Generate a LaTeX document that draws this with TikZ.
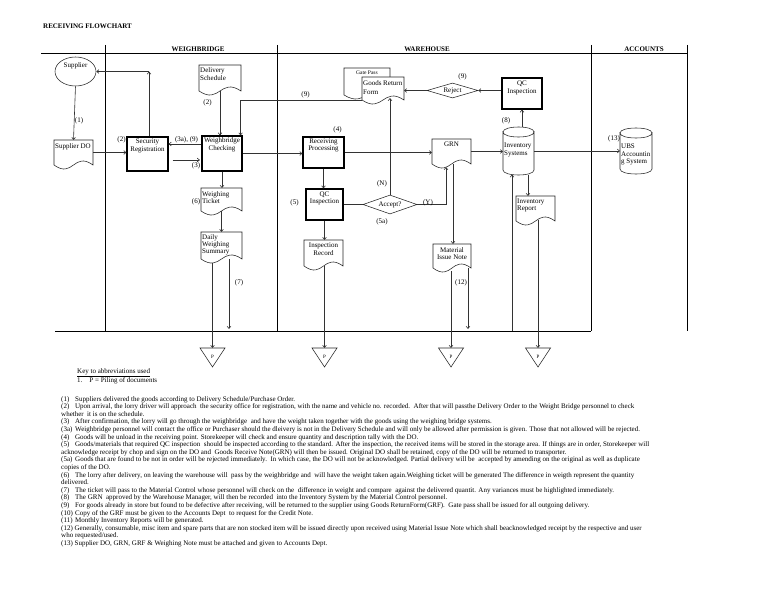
\documentclass[tikz,border=0pt]{standalone}
\usepackage{fontspec}
\setmainfont{Liberation Serif}
\usetikzlibrary{arrows.meta,calc,fit,shapes.geometric}
\newcommand{\fs}{\fontsize{7}{7.6}\selectfont}
\tikzset{
  lane/.style={line width=0.8pt},
  boxst/.style={draw, line width=1.1pt, inner sep=0pt},
  region/.style={inner sep=0pt, outer sep=0pt},
  docline/.style={draw=black!85, line width=0.55pt, fill=white},
  conn/.style={draw=black!80, line width=0.6pt},
  arr/.style={conn, -{Straight Barb[length=2.2pt,width=3.6pt]}},
  txt/.style={font=\fs, inner sep=0pt},
  hd/.style={font=\fs\bfseries, inner sep=0pt},
}
\newcommand{\docnode}[5]{%
  \node[region, fit={(#2,#3) (#4,#5)}] (#1) {};
  \draw[docline] (#1.south west) -- (#1.north west) -- (#1.north east) -- (#1.south east)
    .. controls ($(#1.south)+(0,-14)$) and ($(#1.south)+(0,14)$) .. (#1.south west) -- cycle;}
\newcommand{\cylnode}[5]{%
  \node[region, fit={(#2,#3) (#4,#5)}] (#1) {};
  \draw[docline] ($(#1.north west)+(0,5)$) -- ($(#1.south west)+(0,-5)$)
    .. controls ($(#1.south west)+(0,1.67)$) and ($(#1.south east)+(0,1.67)$) .. ($(#1.south east)+(0,-5)$)
    -- ($(#1.north east)+(0,5)$)
    .. controls ($(#1.north east)+(0,11.67)$) and ($(#1.north west)+(0,11.67)$) .. ($(#1.north west)+(0,5)$) -- cycle;
  \draw[docline, fill=none] ($(#1.north west)+(0,5)$)
    .. controls ($(#1.north west)+(0,-1.67)$) and ($(#1.north east)+(0,-1.67)$) .. ($(#1.north east)+(0,5)$);}
\newcommand{\pnode}[2]{%
  \node[region, fit={({#2-12.5},348) ({#2+12.5},367)}] (#1) {};
  \draw[docline] (#1.north west) -- (#1.north east) -- (#1.south) -- cycle;
  \node[txt, font=\fontsize{5}{6}\selectfont] (#1-t) at ($(#1.center)+(0,-1)$) {P};}
\newcommand{\nb}[1]{\makebox[14pt][l]{#1}}
\begin{document}
\begin{tikzpicture}[x=1pt,y=-1pt]
\useasboundingbox (0,0) rectangle (768,594);
\fill[white] (0,0) rectangle (768,594);
\node[hd, anchor=west] (title) at (43,26) {RECEIVING FLOWCHART};
% swimlanes
\draw[lane] (41,53) -- (687,53);
\foreach \x in {105,277,591,687} { \draw[lane] (\x,45) -- (\x,331); }
\draw[lane] (55,331) -- (591,331);
\node[hd] (lw) at (198,49) {WEIGHBRIDGE};
\node[hd] (lh) at (427,49) {WAREHOUSE};
\node[hd] (la) at (644,49) {ACCOUNTS};

% supplier
\node[draw=black!85, line width=0.55pt, ellipse, minimum width=41pt, minimum height=29pt, inner sep=0pt] (sup) at (75.5,71.5) {};
\node[txt] (sup-t) at ($(sup.center)+(0,-5.5)$) {Supplier};

% documents
\docnode{sdo}{54}{140}{93}{165}
\node[txt, anchor=north west] (sdo-t) at ($(sdo.north west)+(1,3)$) {Supplier DO};
\docnode{ds}{199}{65}{241}{91}
\node[txt, anchor=north west, align=left] (ds-t) at ($(ds.north west)+(1,2.5)$) {Delivery\\Schedule};
\docnode{wt}{201}{188}{242}{211}
\node[txt, anchor=north west, align=left] (wt-t) at ($(wt.north west)+(1,3)$) {Weighing\\Ticket};
\docnode{dws}{201}{232}{242}{259}
\node[txt, anchor=north west, align=left, font=\fontsize{7}{7}\selectfont] (dws-t) at ($(dws.north west)+(1,2.5)$) {Daily\\Weighing\\Summary};
\docnode{ins}{304}{240}{343}{266}
\node[txt, anchor=north, align=center] (ins-t) at ($(ins.north)+(0,3)$) {Inspection\\Record};
\docnode{gp}{344}{68}{390}{95}
\node[txt, font=\fontsize{5.5}{6}\selectfont] (gp-t) at ($(gp.north)+(0,5)$) {Gate Pass};
\docnode{grf}{362}{77}{404}{100}
\node[txt, anchor=north west, align=left, font=\fontsize{7}{8.5}\selectfont] (grf-t) at ($(grf.north west)+(1,3.5)$) {Goods Return\\Form};
\docnode{grn}{432}{139}{471}{164}
\node[txt] (grn-t) at ($(grn.north)+(0,5.5)$) {GRN};
\docnode{irp}{516}{196}{555}{221}
\node[txt, anchor=north west, align=left] (irp-t) at ($(irp.north west)+(1,2.5)$) {Inventory\\Report};
\docnode{min}{433}{244}{471}{268}
\node[txt, anchor=north, align=center] (min-t) at ($(min.north)+(0,3)$) {Material\\Issue Note};

% process boxes
\node[boxst, minimum width=41pt, minimum height=34pt] (sr) at (147.5,154) {};
\node[txt, anchor=north, align=center] (sr-t) at ($(sr.north)+(0,2.5)$) {Security\\Registration};
\node[boxst, minimum width=40pt, minimum height=35pt] (wc) at (222,153.5) {};
\node[txt, anchor=north, align=center] (wc-t) at ($(wc.north)+(0,2)$) {Weighbridge\\Checking};
\node[boxst, minimum width=41pt, minimum height=31pt] (rp) at (323.5,152.5) {};
\node[txt, anchor=north, align=center] (rp-t) at ($(rp.north)+(0,2)$) {Receiving\\Processing};
\node[boxst, minimum width=37pt, minimum height=31pt] (qc) at (324.5,204.5) {};
\node[txt, anchor=north, align=center, font=\fontsize{7}{7.2}\selectfont] (qc-t) at ($(qc.north)+(0,3.5)$) {QC\\Inspection};
\node[boxst, minimum width=40pt, minimum height=31pt] (qct) at (522,93.5) {};
\node[txt, anchor=north, align=center] (qct-t) at ($(qct.north)+(0,3.5)$) {QC\\Inspection};

% decisions
\node[draw=black!85, line width=0.55pt, diamond, aspect=2.8, minimum width=54pt, minimum height=19pt, inner sep=0pt, txt] (acc) at (390,204.5) {Accept?};
\node[draw=black!85, line width=0.55pt, diamond, aspect=3.2, minimum width=51pt, minimum height=15pt, inner sep=0pt, txt] (rej) at (452.5,90.5) {Reject};

% cylinders
\cylnode{inv}{503}{127}{534}{175}
\node[txt, anchor=west, align=left] (inv-t) at ($(inv.west)+(1,-1)$) {Inventory\\Systems};
\cylnode{ubs}{620}{128}{652}{174}
\node[txt, anchor=west, align=left] (ubs-t) at ($(ubs.west)+(1,3.5)$) {UBS\\Accountin\\g System};

% piling triangles
\pnode{p1}{212.5}
\pnode{p2}{324.5}
\pnode{p3}{451}
\pnode{p4}{538}

% connectors
\draw[arr] (sup.south) -- (sdo.north);
\draw[arr] (sdo.east) -- (sdo.east -| sr.west);
\coordinate (c1) at ($(sr.north)+(1.5,0)$);
\coordinate (c1t) at (c1 |- sup.east);
\draw[arr] (c1) -- (c1t);
\draw[arr] (c1t) -- (sup.east);
\coordinate (w1) at ($(wc.west)+(0,-9.5)$);
\draw[arr] (w1) -- (w1 -| sr.east);
\coordinate (s1) at ($(sr.east)+(4,6)$);
\draw[arr] (s1) -- ($(s1 -| wc.west)+(-1.5,0)$);
\draw[arr] (ds.south) -- (ds.south |- wc.north);
\coordinate (c2a) at ($(wc.north east)+(-2,0)$);
\coordinate (c2) at (c2a |- grf.south west);
\draw[arr] (grf.south west) -- (c2) -- (c2a);
\draw[arr] (wc.east) -- (wc.east -| rp.west);
\draw[arr] (wc.south) -- (wc.south |- wt.north);
\draw[arr] (wt.south) -- (wt.south |- dws.north);
\draw[arr] ($(p1.north |- dws.south)+(0,4)$) -- (p1.north);
\coordinate (b1) at (229,329);
\draw[arr] (b1 |- dws.south) -- (b1);
\draw[arr] (rp.east) -- (rp.east -| grn.west);
\draw[arr] (rp.south) -- (rp.south |- qc.north);
\draw[conn] (qc.east) -- (acc.west);
\draw[arr] (qc.south) -- (qc.south |- ins.north);
\draw[arr] (p2.north |- ins.south) -- (p2.north);
\draw[arr] (acc.north) -- ($(acc.north |- grf.south)+(0,-2)$);
\coordinate (g1) at ($(grn.south)+(-5.5,3)$);
\draw[arr] (acc.east) -| (g1);
\coordinate (g2) at ($(grn.south)+(1.5,0)$);
\draw[arr] (g2) -- (g2 |- min.north);
\draw[arr] ($(p3.north |- min.south)+(0,3)$) -- (p3.north);
\coordinate (b4) at (468,329);
\draw[arr] (b4 |- min.south) -- (b4);
\draw[arr] (grn.east) -- (grn.east -| inv.west);
\draw[arr] (qct.south |- inv.north) -- (qct.south);
\draw[arr] (rej.east -| qct.west) -- (rej.east);
\draw[arr] (rej.west) -- (rej.west -| grf.east);
\draw[arr] (inv.east) -- (inv.east -| ubs.west);
\coordinate (b3) at (512,331);
\draw[arr] (b3) -- ($(b3 |- inv.south)+(0,-0.5)$);
\coordinate (i2) at ($(inv.south)+(9.5,-0.5)$);
\draw[arr] (i2) -- (i2 |- irp.north);
\draw[arr] ($(p4.north |- irp.south)+(0,-1)$) -- (p4.north);

% connector labels
\node[txt] (l1) at (79,121) {(1)};
\node[txt] (l2a) at (121.5,140) {(2)};
\node[txt] (l3a) at (186.5,140) {(3a), (9)};
\node[txt] (l3) at (196,166) {(3)};
\node[txt] (l2b) at (207.5,103) {(2)};
\node[txt] (l6) at (196,202) {(6)};
\node[txt] (l7) at (239,283) {(7)};
\node[txt] (l9a) at (305.5,95) {(9)};
\node[txt] (l4) at (337.5,130) {(4)};
\node[txt] (l5) at (294.5,203) {(5)};
\node[txt] (lN) at (382,184) {(N)};
\node[txt] (lY) at (428,203) {(Y)};
\node[txt] (l5a) at (382,222) {(5a)};
\node[txt] (l9b) at (462.5,77) {(9)};
\node[txt] (l8) at (506,121) {(8)};
\node[txt] (l12) at (461,283) {(12)};
\node[txt] (l13) at (614,139) {(13)};

% key and notes
\node[txt, anchor=west] (key) at (77,373) {\underline{Key to abbreviations used}};
\node[txt, anchor=west] (key1) at (77,381) {1.\hspace{7pt}P = Piling of documents};
\node[txt, anchor=north west, align=left] (notes) at (61,396) {%
\nb{(1)}Suppliers delivered the goods according to Delivery Schedule/Purchase Order.\\
\nb{(2)}Upon arrival, the lorry driver will approach\ \ the security office for registration, with the name and vehicle no. recorded.\ \ After that will passthe Delivery Order to the Weight Bridge personnel to check\\
whether\ \ it is on the schedule.\\
\nb{(3)}After confirmation, the lorry will go through the weighbridge\ \ and have the weight taken together with the goods using the weighing bridge systems.\\
\nb{(3a)}Weighbridge personnel will contact the office or Purchaser should the dleivery is not in the Delivery Schedule and will only be allowed after permission is given. Those that not allowed will be rejected.\\
\nb{(4)}Goods will be unload in the receiving point. Storekeeper will check and ensure quantity and description tally with the DO.\\
\nb{(5)}Goods/materials that required QC inspection\ \ should be inspected according to the standard. After the inspection, the received items will be stored in the storage area. If things are in order, Storekeeper will\\
acknowledge receipt by chop and sign on the DO and\ \ Goods Receive Note(GRN) will then be issued. Original DO shall be retained, copy of the DO will be returned to transporter.\\
\nb{(5a)}Goods that are found to be not in order will be rejected immediately.\ \ In which case, the DO will not be acknowledged. Partial delivery will be\ \ accepted by amending on the original as well as duplicate\\
copies of the DO.\\
\nb{(6)}The lorry after delivery, on leaving the warehouse will\ \ pass by the weighbridge and\ \ will have the weight taken again.Weighing ticket will be generated The difference in weigth represent the quantity\\
delivered.\\
\nb{(7)}The ticket will pass to the Material Control whose personnel will check on the\ \ difference in weight and compare\ \ against the delivered quantit. Any variances must be highlighted immediately.\\
\nb{(8)}The GRN\ \ approved by the Warehouse Manager, will then be recorded\ \ into the Inventory System by the Material Control personnel.\\
\nb{(9)}For goods already in store but found to be defective after receiving, will be returned to the supplier using Goods ReturnForm(GRF).\ \ Gate pass shall be issued for all outgoing delivery.\\
\nb{(10)}Copy of the GRF must be given to the Accounts Dept\ \ to request for the Credit Note.\\
\nb{(11)}Monthly Inventory Reports will be generated.\\
(12) Generally, consumable, misc item and spare parts that are non stocked item will be issued directly upon received using Material Issue Note which shall beacknowledged receipt by the respective and user\\
who requested/used.\\
(13) Supplier DO, GRN, GRF \& Weighing Note must be attached and given to Accounts Dept.};
\end{tikzpicture}
\end{document}
